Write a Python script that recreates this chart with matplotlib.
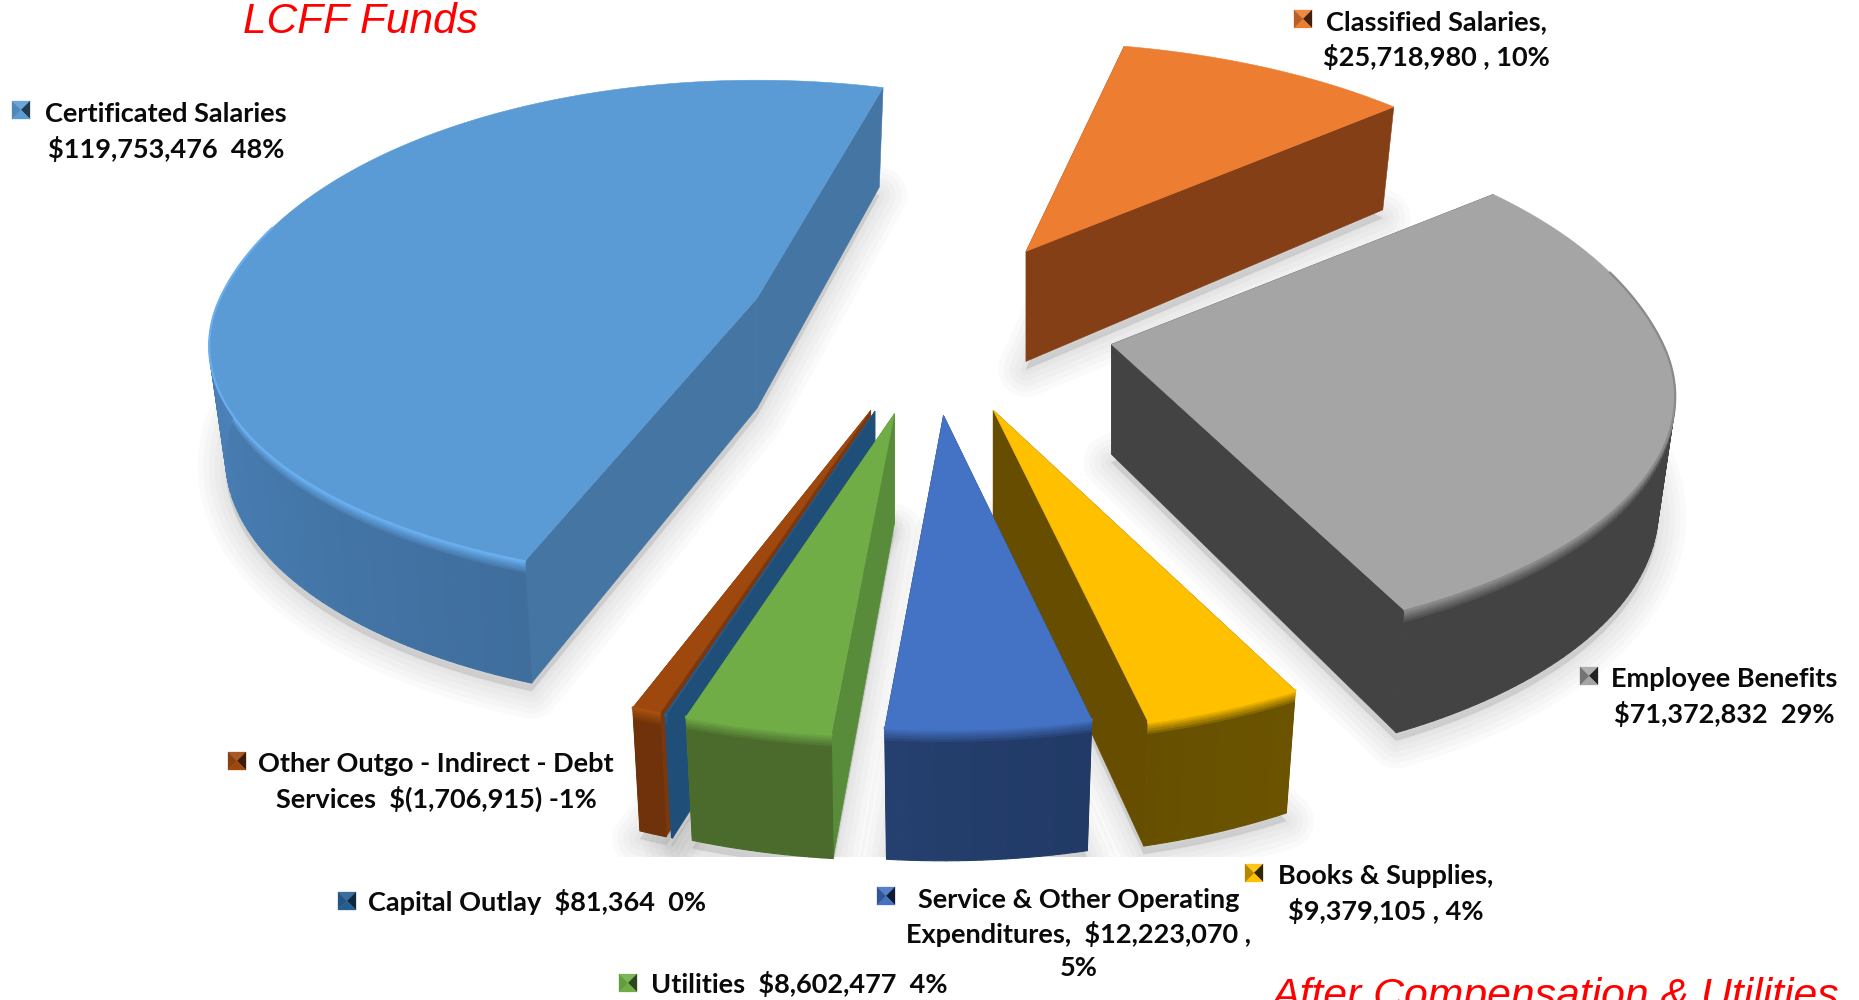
#!/usr/bin/env python
# -*- coding: utf-8 -*-
import numpy as np
import matplotlib
matplotlib.use('Agg')
import matplotlib.pyplot as plt
from matplotlib.collections import PolyCollection
from matplotlib.colors import to_rgb
from matplotlib.patches import Polygon, Rectangle

###############################################################################
# Data (clockwise from the first slice)
###############################################################################
CATEGORIES = [
    'Classified Salaries', 'Employee Benefits', 'Books & Supplies',
    'Service & Other Operating Expenditures', 'Utilities', 'Capital Outlay',
    'Other Outgo - Indirect - Debt Services', 'Certificated Salaries'
]
AMOUNTS = [
    25718980, 71372832, 9379105, 12223070, 8602477, 81364, -1706915, 119753476
]
LABELS = [
    'Classified Salaries,\n$25,718,980 , 10%',
    'Employee Benefits\n$71,372,832  29%',
    'Books & Supplies,\n$9,379,105 , 4%',
    'Service & Other Operating\nExpenditures,  $12,223,070 ,\n5%',
    'Utilities  $8,602,477  4%',
    'Capital Outlay  $81,364  0%',
    'Other Outgo - Indirect - Debt\nServices  $(1,706,915) -1%',
    'Certificated Salaries\n$119,753,476  48%'
]
TITLES = ['LCFF Funds', 'After Compensation & Utilities']
###############################################################################
# Styles and layout
###############################################################################
TOPS = ['#ED7D31', '#A5A5A5', '#FFC000', '#4472C4', '#70AD47', '#255E91', '#9E480E', '#5B9BD5']
CUTS = ['#843F17', '#434343', '#664D00', '#1F3864', '#588C3A', '#1F4E79', '#7A3810', '#4575A2']
RIMS = ['#ED7D31', '#8A8A8A', '#FFC000', '#4472C4', '#70AD47', '#255E91', '#A8500F', '#69AEEE']
WALL_A = ['#843F17', '#434343', '#6B5300', '#213A66', '#4A6B2C', '#1F4E79', '#6F320A', '#3F6E9D']
WALL_B = ['#843F17', '#434343', '#665000', '#25406F', '#4A6B2C', '#1F4E79', '#6F320A', '#4F88C2']
# Per slice fixes: the drawing in the reference is not a perfect disk
SCALE = [1.01, 1.012, 1, .98, 1, 1, 1, .985]
FRONT = [0, .06, 0, 0, 0, 0, 0, .08]
BACK = [0, .1, 0, 0, 0, 0, 0, .08]
NUDGE = [-1.5, -1.5, -1, -.75, -.5, -.5, -.4, 1.5]
DEPTH = [1, 1, 1, 1.06, 1, 1, 1, 1]
TXT_POS = [
    (1436, 40), (1724, 697), (1386, 894), (1079, 934),
    (799, 984), (537, 902), (436, 782), (166, 132)
]
MRK_POS = [
    (1303, 19), (1589, 676), (1254, 873), (886, 896),
    (628, 983), (347, 901), (237, 761), (21, 110)
]
DRAW_ORDER = [0, 7, 1, 2, 6, 5, 4, 3]
(W, H, DPI) = (1859, 1000, 100)
(CX, CY, EXPLODE, EX_Y) = (931, 327, 184, .48)
(RX, RY, PERSP, THICK) = (545, 252.5, .217, 110)
START = 14
(FNT, FNT_SZE) = ('Lato', 19.5)
BANDS = [0, .015, .03, .045, .06, .08, .10, 1]


def blend(a, b, t):
    t = min(max(t, 0), 1)
    return tuple((1-t)*np.array(to_rgb(a))+t*np.array(to_rgb(b)))


def project(theta, apex, i, depth=0):
    # depth 0 is the top face and depth 1 the bottom face
    c = np.cos(theta)
    r = SCALE[i]*(1-FRONT[i]*np.maximum(0, -c)**2+BACK[i]*np.maximum(0, c)**2)
    (x, y) = (r*np.sin(theta), r*c)
    s = 1/(1+PERSP*y)
    (sx, sy) = (RX*x*s, -RY*y*s)
    px = apex[0]+sx*(1-.03*depth)
    py = apex[1]+sy+depth*THICK*DEPTH[i]*np.sqrt(s)
    return np.column_stack([px, py])


###############################################################################
# Slices angles
###############################################################################
sizes = np.abs(np.array(AMOUNTS, dtype=float))
sweep = np.radians(sizes/sizes.sum()*360)
bounds = np.radians(START)+np.concatenate([[0], np.cumsum(sweep)])
(fig, ax) = (plt.figure(figsize=(W/DPI, H/DPI), dpi=DPI), None)
ax = fig.add_axes([0, 0, 1, 1])
ax.set_xlim(0, W)
ax.set_ylim(H, 0)
ax.axis('off')


def sliceGeometry(i):
    (t0, t1) = (bounds[i]+np.radians(NUDGE[i]), bounds[i+1]+np.radians(NUDGE[i]))
    mid = (t0+t1)/2
    apex = (CX+EXPLODE*np.sin(mid), CY-EXPLODE*EX_Y*np.cos(mid))
    thetas = np.linspace(t0, t1, max(int(np.degrees(t1-t0)), 2)+1)
    return (apex, thetas)


###############################################################################
# Shadows
###############################################################################
clip = Rectangle((0, 0), W, 857, transform=ax.transData)
for i in range(len(AMOUNTS)):
    (apex, thetas) = sliceGeometry(i)
    base = np.vstack([[apex[0], apex[1]+THICK], project(thetas, apex, i, 1)])
    base[:, 1] += 8
    for lw in (40, 32, 24, 16, 8, 2):
        pg = Polygon(
            base, closed=True, fc='#8c8c8c', ec='#8c8c8c', lw=lw, alpha=.045,
            joinstyle='round', zorder=1
        )
        ax.add_patch(pg)
        pg.set_clip_path(clip)
###############################################################################
# Slices
###############################################################################
for (k, i) in enumerate(DRAW_ORDER):
    (apex, thetas) = sliceGeometry(i)
    z = 2+k
    (top, bot) = (project(thetas, apex, i, 0), project(thetas, apex, i, 1))
    apexB = (apex[0], apex[1]+THICK)
    # Cut walls
    for j in (0, -1):
        ax.add_patch(Polygon(
            [apex, top[j], bot[j], apexB], closed=True,
            fc=CUTS[i], ec=CUTS[i], lw=.4, zorder=z
        ))
    # Outer wall, with a soft rim under the top face (back half is hidden)
    (quads, cols) = ([], [])
    span = min(thetas[-1]-thetas[0], np.radians(85))
    for n in range(len(thetas)-1):
        if np.cos(thetas[n]) > .15 and np.cos(thetas[n+1]) > .15:
            continue
        wall = blend(WALL_A[i], WALL_B[i], (thetas[n]-thetas[0])/span)
        for b in range(len(BANDS)-1):
            (d0, d1) = (BANDS[b], BANDS[b+1])
            pts = project(thetas[n:n+2], apex, i, 0)
            ptsB = project(thetas[n:n+2], apex, i, 1)
            (q0, q1) = (pts+(ptsB-pts)*d0, pts+(ptsB-pts)*d1)
            quads.append(np.vstack([q0, q1[::-1]]))
            cols.append(blend(RIMS[i], wall, d0/BANDS[-2]))
    if quads:
        ax.add_collection(PolyCollection(
            quads, facecolors=cols, edgecolors=cols, linewidths=.8, zorder=z
        ))
    # Top face
    ax.add_patch(Polygon(
        np.vstack([apex, top]), closed=True,
        fc=TOPS[i], ec=TOPS[i], lw=.4, zorder=z
    ))
    # Thin lit edge along the visible arc
    vis = np.cos(thetas) < .3
    ax.plot(top[vis, 0], top[vis, 1], color=RIMS[i], lw=1.6, zorder=z)
###############################################################################
# Labels and their pyramid markers
###############################################################################
for i in range(len(AMOUNTS)):
    ax.text(
        TXT_POS[i][0], TXT_POS[i][1], LABELS[i],
        ha='center', va='center', ma='center', color='#0a0a0a',
        family=FNT, weight='bold', fontsize=FNT_SZE, linespacing=1.42, zorder=30
    )
    (mx, my, m) = (MRK_POS[i][0], MRK_POS[i][1], 9)
    (nw, ne, se, sw) = ((mx-m, my-m), (mx+m, my-m), (mx+m, my+m), (mx-m, my+m))
    tris = [
        ((nw, ne, (mx, my)), blend(TOPS[i], '#ffffff', .1)),
        ((ne, se, (mx, my)), blend(CUTS[i], '#000000', .5)),
        ((se, sw, (mx, my)), TOPS[i]),
        ((sw, nw, (mx, my)), blend(TOPS[i], CUTS[i], .5))
    ]
    for (tri, col) in tris:
        ax.add_patch(Polygon(tri, closed=True, fc=col, ec=col, lw=.2, zorder=30))
###############################################################################
# Red notes
###############################################################################
ax.text(
    243, 33, TITLES[0], color='#FF0000', family='Liberation Sans',
    style='italic', fontsize=30.5, ha='left', va='baseline', zorder=31
)
ax.text(
    1271, 1008, TITLES[1], color='#FF0000', family='Liberation Sans',
    style='italic', fontsize=30.8, ha='left', va='baseline', zorder=31,
    clip_on=True
)
fig.savefig('out.png', dpi=DPI, facecolor='white')
plt.close('all')
